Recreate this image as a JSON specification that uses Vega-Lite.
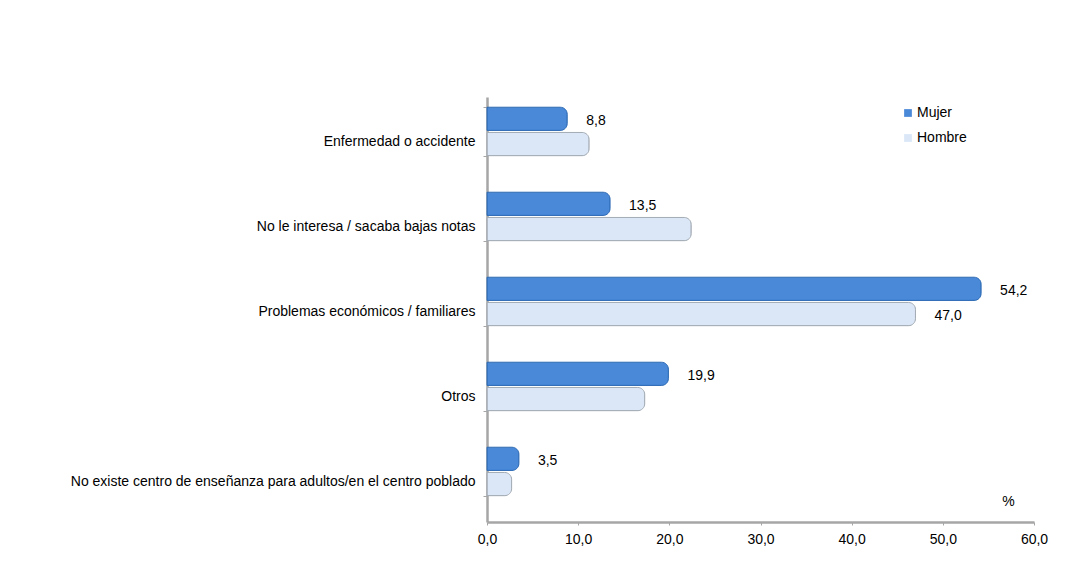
{
  "$schema": "https://vega.github.io/schema/vega-lite/v6.json",
  "width": 547,
  "height": 425,
  "autosize": {"type": "none"},
  "padding": {"left": 487, "top": 97, "right": 47, "bottom": 59},
  "background": "white",
  "config": {
    "view": {"stroke": null},
    "font": "Liberation Sans, Arial",
    "text": {"font": "Liberation Sans, Arial"}
  },
  "data": {
    "values": [
      {"motivo": "Enfermedad o accidente", "sexo": "Mujer", "valor": 8.8, "etiqueta": "8,8"},
      {"motivo": "Enfermedad o accidente", "sexo": "Hombre", "valor": 11.2, "etiqueta": ""},
      {"motivo": "No le interesa  / sacaba bajas notas", "sexo": "Mujer", "valor": 13.5, "etiqueta": "13,5"},
      {"motivo": "No le interesa  / sacaba bajas notas", "sexo": "Hombre", "valor": 22.4, "etiqueta": ""},
      {"motivo": "Problemas económicos / familiares", "sexo": "Mujer", "valor": 54.2, "etiqueta": "54,2"},
      {"motivo": "Problemas económicos / familiares", "sexo": "Hombre", "valor": 47.0, "etiqueta": "47,0"},
      {"motivo": "Otros", "sexo": "Mujer", "valor": 19.9, "etiqueta": "19,9"},
      {"motivo": "Otros", "sexo": "Hombre", "valor": 17.3, "etiqueta": ""},
      {"motivo": "No existe centro de enseñanza para adultos/en el centro poblado", "sexo": "Mujer", "valor": 3.5, "etiqueta": "3,5"},
      {"motivo": "No existe centro de enseñanza para adultos/en el centro poblado", "sexo": "Hombre", "valor": 2.7, "etiqueta": ""}
    ]
  },
  "encoding": {
    "y": {
      "field": "motivo",
      "type": "nominal",
      "sort": null,
      "scale": {"paddingInner": 0.43, "paddingOuter": 0.215, "align": 0.28},
      "axis": {
        "title": null,
        "domainColor": "#a6a6a6",
        "domainWidth": 2.5,
        "tickColor": "#a6a6a6",
        "tickSize": 4,
        "tickBand": "extent",
        "tickOffset": 8,
        "labelOffset": 10,
        "labelFontSize": 14,
        "labelColor": "#000000",
        "labelPadding": 8,
        "labelLimit": 500
      }
    },
    "yOffset": {
      "field": "sexo",
      "type": "nominal",
      "sort": ["Mujer", "Hombre"],
      "scale": {"paddingInner": 0.08}
    },
    "x": {
      "field": "valor",
      "type": "quantitative",
      "scale": {"domain": [0, 60], "nice": false},
      "axis": {
        "values": [0, 10, 20, 30, 40, 50, 60],
        "labelExpr": "replace(format(datum.value, '.1f'), '.', ',')",
        "labelFlush": false,
        "grid": false,
        "domainColor": "#a6a6a6",
        "domainWidth": 2.5,
        "tickColor": "#a6a6a6",
        "tickSize": 3,
        "labelFontSize": 14,
        "labelColor": "#000000",
        "labelPadding": 7,
        "title": "%",
        "titleFontSize": 14,
        "titleFontWeight": "normal",
        "titleColor": "#000000",
        "titleX": 521,
        "titleY": -28,
        "titleAlign": "center"
      }
    }
  },
  "layer": [
    {
      "mark": {"type": "bar", "cornerRadiusEnd": 7, "strokeWidth": 1},
      "encoding": {
        "color": {
          "field": "sexo",
          "type": "nominal",
          "sort": ["Mujer", "Hombre"],
          "scale": {"domain": ["Mujer", "Hombre"], "range": ["#4a88d8", "#dbe7f7"]},
          "legend": {
            "title": null,
            "orient": "none",
            "legendX": 414,
            "legendY": 9,
            "symbolType": "square",
            "symbolSize": 60,
            "symbolStrokeWidth": 0,
            "labelFontSize": 14,
            "labelColor": "#000000",
            "labelOffset": 2,
            "rowPadding": 11
          }
        },
        "stroke": {
          "field": "sexo",
          "type": "nominal",
          "scale": {"domain": ["Mujer", "Hombre"], "range": ["#2f6cb5", "#a3abb4"]},
          "legend": null
        }
      }
    },
    {
      "mark": {"type": "text", "align": "left", "baseline": "middle", "dx": 19, "dy": 2, "fontSize": 14, "color": "#000000"},
      "encoding": {
        "text": {"field": "etiqueta", "type": "nominal"}
      }
    }
  ]
}
